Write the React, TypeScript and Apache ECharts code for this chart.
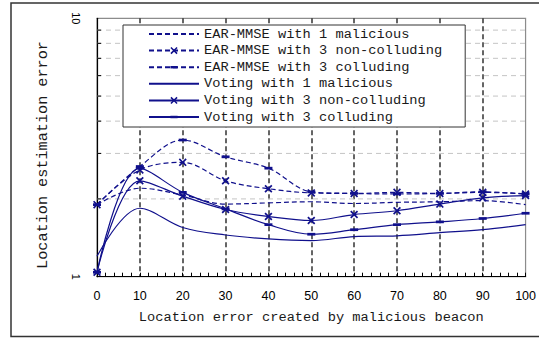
import { useEffect, useRef } from "react";
import * as echarts from "echarts";

// Beacon location error (x) and the resulting location estimation error (y, log scale)
const X_VALUES = [0, 10, 20, 30, 40, 50, 60, 70, 80, 90, 100];
const EAR_ONE_MALICIOUS = [1.9, 2.2, 2.07, 1.91, 1.93, 1.95, 1.92, 1.94, 1.95, 1.97, 1.9];
const EAR_THREE_NON_COLLUDING = [1.9, 2.59, 2.77, 2.35, 2.19, 2.11, 2.1, 2.12, 2.1, 2.12, 2.09];
const EAR_THREE_COLLUDING = [1.9, 2.67, 3.38, 2.91, 2.63, 2.13, 2.1, 2.09, 2.1, 2.13, 2.09];
const VOTING_ONE_MALICIOUS = [1.2, 1.84, 1.55, 1.45, 1.4, 1.38, 1.43, 1.44, 1.48, 1.52, 1.59];
const VOTING_THREE_NON_COLLUDING = [1.04, 2.35, 2.05, 1.82, 1.71, 1.65, 1.74, 1.8, 1.91, 2.02, 2.06];
const VOTING_THREE_COLLUDING = [1.04, 2.63, 2.12, 1.83, 1.59, 1.46, 1.52, 1.59, 1.63, 1.68, 1.76];

const SERIES_NAMES = [
  "EAR-MMSE with 1 malicious",
  "EAR-MMSE with 3 non-colluding",
  "EAR-MMSE with 3 colluding",
  "Voting with 1 malicious",
  "Voting with 3 non-colluding",
  "Voting with 3 colluding",
];

// Log-decade minor values that get a tick and a light dashed grid line
const Y_MINOR = [2, 3, 4, 5, 6, 7, 8, 9];

const X_MIN = 0;
const X_MAX = 100;
const Y_MIN = 1;
const Y_MAX = 10;

const NAVY = "#10108c";
const MONO = "'Liberation Mono', 'DejaVu Sans Mono', monospace";
const SANS = "'Liberation Sans', Arial, sans-serif";
const TEXT = "#1a1a1a";

// Filled "x" cross marker
const CROSS_SYMBOL =
  "path://M0,1.5L1.5,0L5,3.5L8.5,0L10,1.5L6.5,5L10,8.5L8.5,10L5,6.5L1.5,10L0,8.5L3.5,5Z";
// Short horizontal bar marker inside a square box (corner points keep the box square)
const BAR_SYMBOL = "path://M0,0L0,0M10,10L10,10M0,3.3L10,3.3L10,6.7L0,6.7Z";

type LineDef = {
  name: string;
  values: number[];
  dashed: boolean;
  symbol: string;
  size: number;
};

const LINES: LineDef[] = [
  { name: SERIES_NAMES[0], values: EAR_ONE_MALICIOUS, dashed: true, symbol: "none", size: 0 },
  { name: SERIES_NAMES[1], values: EAR_THREE_NON_COLLUDING, dashed: true, symbol: CROSS_SYMBOL, size: 8 },
  { name: SERIES_NAMES[2], values: EAR_THREE_COLLUDING, dashed: true, symbol: BAR_SYMBOL, size: 8 },
  { name: SERIES_NAMES[3], values: VOTING_ONE_MALICIOUS, dashed: false, symbol: "none", size: 0 },
  { name: SERIES_NAMES[4], values: VOTING_THREE_NON_COLLUDING, dashed: false, symbol: CROSS_SYMBOL, size: 8 },
  { name: SERIES_NAMES[5], values: VOTING_THREE_COLLUDING, dashed: false, symbol: BAR_SYMBOL, size: 8 },
];

export default function App() {
  const ref = useRef<HTMLDivElement>(null);

  useEffect(() => {
    if (!ref.current) return;
    const chart = echarts.init(ref.current, null, { renderer: "svg" });

    const lineSeries = LINES.map((l) => ({
      type: "line",
      name: l.name,
      data: X_VALUES.map((x, i) => [x, l.values[i]]),
      smooth: 0.35,
      symbol: l.symbol,
      symbolSize: l.size,
      showSymbol: l.symbol !== "none",
      lineStyle: { color: NAVY, width: 1.2, type: l.dashed ? [5, 3] : "solid" },
      itemStyle: { color: NAVY, borderWidth: 0 },
      z: 3,
    }));

    const minorGrid = {
      type: "custom",
      silent: true,
      z: 1,
      data: Y_MINOR.map((v) => [X_MIN, v]),
      encode: { x: 0, y: 1 },
      renderItem: (_params: any, api: any) => {
        const v = api.value(1);
        const a = api.coord([X_MIN, v]);
        const b = api.coord([X_MAX, v]);
        return {
          type: "group",
          children: [
            {
              type: "line",
              shape: { x1: a[0], y1: a[1], x2: b[0], y2: b[1] },
              style: { stroke: "#c4c4c4", lineWidth: 1, lineDash: [5, 4] },
            },
            {
              type: "line",
              shape: { x1: a[0], y1: a[1], x2: a[0] + 4, y2: a[1] },
              style: { stroke: "#000", lineWidth: 1 },
            },
          ],
        };
      },
    };

    chart.setOption({
      animation: false,
      backgroundColor: "#fff",
      grid: {
        left: 97,
        right: 11.7,
        top: 18.3,
        bottom: 62.3,
        show: true,
        borderColor: "#8c8c8c",
        borderWidth: 1.2,
        backgroundColor: "transparent",
      },
      legend: {
        orient: "vertical",
        left: 123,
        top: 25,
        padding: [2, 23, 3, 25],
        itemWidth: 50,
        itemHeight: 9,
        itemGap: 2.6,
        backgroundColor: "#fff",
        borderColor: "#333",
        borderWidth: 1,
        borderRadius: 0,
        selectedMode: false,
        textStyle: { fontFamily: MONO, fontSize: 13.7, color: TEXT, lineHeight: 14 },
        data: SERIES_NAMES.map((name, i) =>
          LINES[i].symbol === "none" ? { name, itemStyle: { opacity: 0 } } : { name }
        ),
      },
      xAxis: {
        type: "value",
        min: X_MIN,
        max: X_MAX,
        interval: 10,
        name: "Location error created by malicious beacon",
        nameLocation: "middle",
        nameGap: 34,
        nameTextStyle: { fontFamily: MONO, fontSize: 13.7, color: TEXT },
        axisLine: { show: true, onZero: false, lineStyle: { color: "#000", width: 1.2 } },
        axisTick: { show: true, inside: true, length: 4, lineStyle: { color: "#000" } },
        minorTick: { show: true, splitNumber: 5, length: 4, lineStyle: { color: "#000" } },
        axisLabel: { color: "#000", fontFamily: SANS, fontSize: 12.5, margin: 13 },
        splitLine: {
          show: true,
          showMinLine: false,
          showMaxLine: false,
          lineStyle: { color: "#333", width: 1.5, type: [5, 3] },
        },
      },
      yAxis: {
        type: "log",
        logBase: 10,
        min: Y_MIN,
        max: Y_MAX,
        name: "Location estimation error",
        nameLocation: "middle",
        nameGap: 47,
        nameTextStyle: {
          fontFamily: MONO,
          fontSize: 15.2,
          color: TEXT,
          padding: [0, 15, 0, 0],
        },
        axisLine: { show: true, lineStyle: { color: "#000", width: 1.2 } },
        axisTick: { show: false },
        axisLabel: { color: "#000", fontFamily: SANS, fontSize: 11, rotate: -90, margin: 16 },
        splitLine: { show: false },
      },
      graphic: [
        {
          type: "rect",
          shape: { x: 11, y: 3, width: 545, height: 333.5 },
          style: { fill: "none", stroke: "#333", lineWidth: 1.5 },
          z: 100,
        },
      ],
      series: [minorGrid, ...lineSeries],
    });

    return () => chart.dispose();
  }, []);

  return (
    <div
      ref={ref}
      style={{ position: "fixed", left: 0, top: 0, width: 539, height: 339, background: "#fff" }}
    />
  );
}
